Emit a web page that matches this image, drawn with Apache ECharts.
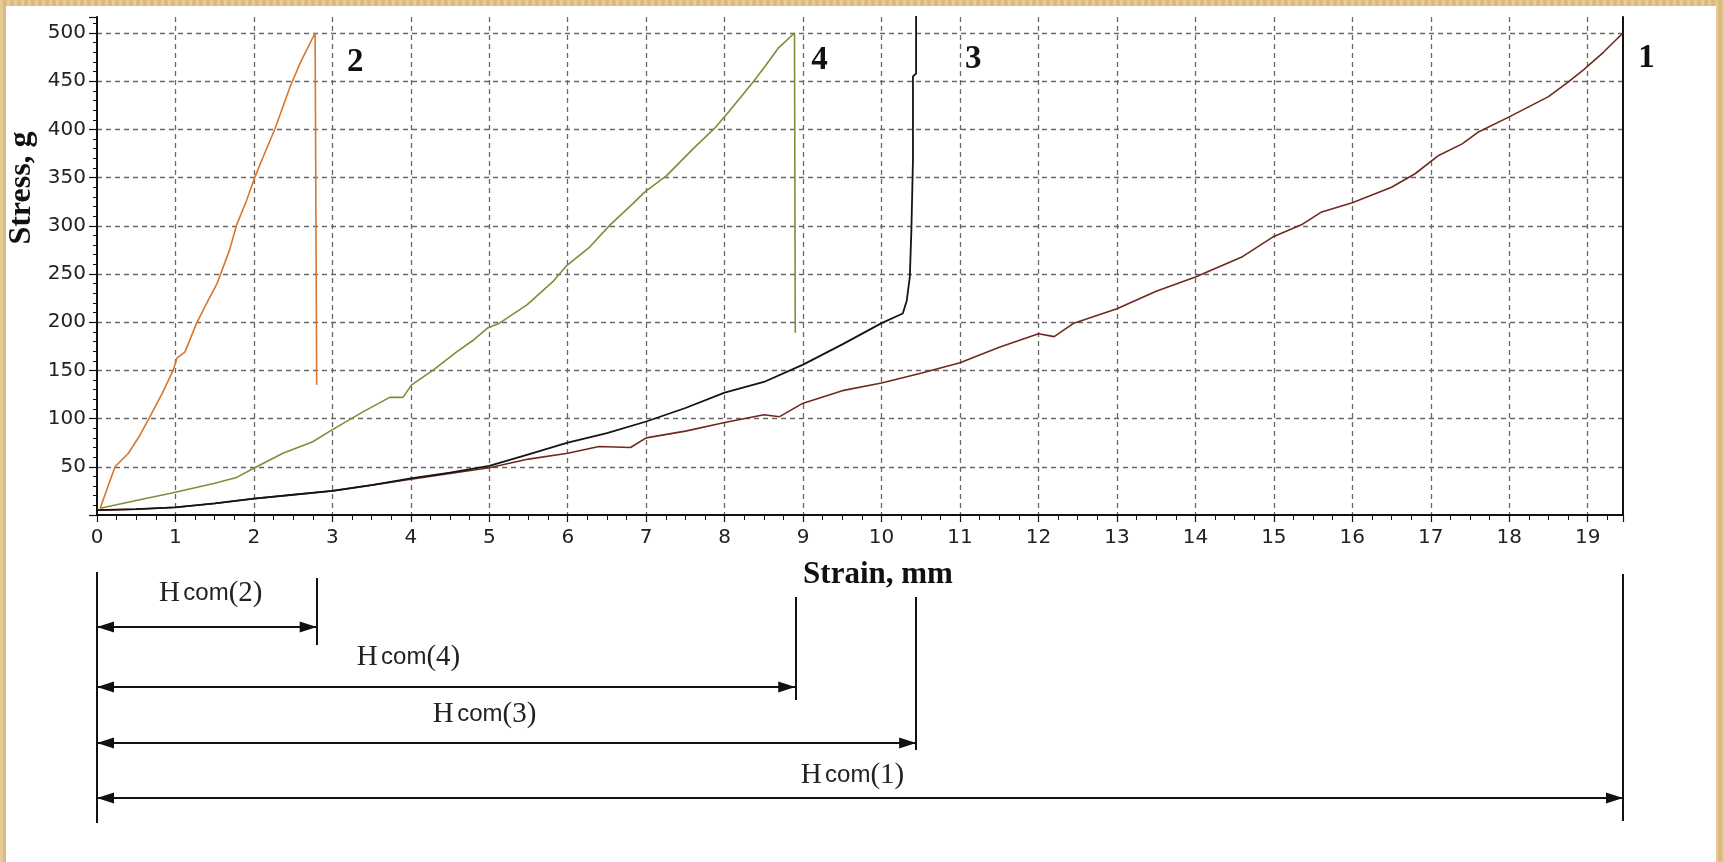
<!DOCTYPE html>
<html>
<head>
<meta charset="utf-8">
<title>Stress - Strain</title>
<script src="https://cdn.jsdelivr.net/npm/echarts@6/dist/echarts.min.js"></script>
<style>
html,body{margin:0;padding:0;}
#wrap{position:relative;width:1724px;height:862px;background:#E2C38A;
  background-image:repeating-linear-gradient(90deg,rgba(255,255,255,0.12) 0 3px,rgba(160,110,40,0.10) 3px 7px);}
#paper{position:absolute;left:6px;top:6px;right:8px;bottom:0;background:#fff;}
#chart{position:absolute;left:0;top:0;width:1724px;height:862px;}
</style>
</head>
<body>
<div id="wrap"><div id="paper"></div><div id="chart"></div></div>
<script>
// кривые нагружения (деформация, мм / нагрузка, г)
var strain1 = [0, 0.5, 1, 1.5, 2, 2.5, 3, 3.5, 4, 4.5, 5, 5.5, 6, 6.4, 6.8, 7, 7.5, 8, 8.5, 8.7, 9, 9.5, 10, 10.5, 11, 11.5, 12, 12.2, 12.45, 13, 13.5, 14, 14.6, 15, 15.35, 15.6, 16, 16.5, 16.8, 17.1, 17.4, 17.6, 18, 18.5, 18.75, 18.95, 19.2, 19.45];
var stress1 = [5, 6, 8, 12, 17, 21, 25, 31, 37, 43, 49, 58, 64, 71, 70, 80, 87, 96, 104, 102, 116, 129, 137, 147, 158, 174, 188, 185, 199, 214, 232, 247, 268, 289, 301, 314, 324, 340, 354, 373, 385, 397, 413, 434, 449, 462, 480, 500];

var strain2 = [0.04, 0.23, 0.4, 0.55, 0.7, 0.83, 0.97, 1.02, 1.12, 1.27, 1.4, 1.53, 1.69, 1.78, 1.91, 2.01, 2.1, 2.27, 2.46, 2.59, 2.78, 2.8];
var stress2 = [7, 50, 64, 83, 106, 126, 150, 163, 169, 199, 220, 240, 275, 301, 327, 350, 368, 401, 444, 469, 500, 135];

var strain3 = [0, 0.5, 1, 1.5, 2, 2.5, 3, 3.5, 4, 4.5, 5, 5.5, 6, 6.5, 7, 7.5, 8, 8.5, 9, 9.5, 10, 10.27, 10.32, 10.36, 10.38, 10.4, 10.4, 10.44, 10.44];
var stress3 = [5, 6, 8, 12, 17, 21, 25, 31, 38, 44, 51, 63, 75, 85, 97, 111, 127, 138, 156, 177, 199, 209, 222, 247, 296, 368, 455, 458, 525];

var strain4 = [0.04, 0.5, 0.97, 1.5, 1.78, 2.01, 2.37, 2.75, 2.99, 3.39, 3.73, 3.9, 4.01, 4.28, 4.58, 4.79, 4.98, 5.13, 5.48, 5.81, 5.99, 6.28, 6.54, 6.83, 6.98, 7.26, 7.6, 7.87, 8.05, 8.36, 8.53, 8.68, 8.89, 8.9];
var stress4 = [7, 15, 23, 33, 39, 49, 64, 76, 88, 107, 122, 122, 135, 150, 169, 181, 194, 199, 218, 242, 259, 278, 301, 323, 335, 352, 380, 401, 418, 449, 467, 484, 500, 189];

// Hcom — деформация разрушения для каждого образца
var hcomNames = ['2', '4', '3', '1'];
var hcomValues = [2.8, 8.9, 10.44, 19.45];

var X_MAX = 19.45, Y_MAX = 516.6;
var serif = '"Liberation Serif","Times New Roman",serif';
var sans = '"DejaVu Sans",Arial,sans-serif';

function pairs(xs, ys){
  return xs.map(function(x, i){ return [x, ys[i]]; });
}

var dash = {color:'#686868', width:1.3, type:[5,4]};

// размерные линии под графиком (уровни в пикселях второй сетки)
var rowArrow = [67, 127, 183, 238];
var rowTick = [[18, 85], [37, 140], [37, 190], [14, 261]];
var rowText = [33, 97, 154, 215];
var textX = [1.45, 3.97, 4.94, 9.63];

var dimLines = [
  [{coord:[0, 12], symbol:'none'}, {coord:[0, 263], symbol:'none'}]
];
var dimLabels = [];
hcomValues.forEach(function(v, i){
  dimLines.push([{coord:[v, rowTick[i][0]], symbol:'none'}, {coord:[v, rowTick[i][1]], symbol:'none'}]);
  dimLines.push([{coord:[0, rowArrow[i]], symbol:'triangle'}, {coord:[v, rowArrow[i]], symbol:'triangle'}]);
  dimLabels.push([textX[i], rowText[i], hcomNames[i]]);
});

var chart = echarts.init(document.getElementById('chart'));
var option = {
  animation: false,
  backgroundColor: 'transparent',
  grid: [
    {left:97, right:101, top:17, bottom:347},
    {left:97, right:101, top:560, bottom:30}
  ],
  xAxis: [
    {
      type:'value', gridIndex:0, min:0, max:X_MAX, interval:1,
      axisLine:{show:true, onZero:false, lineStyle:{color:'#111', width:2}},
      axisTick:{show:true, length:7, lineStyle:{color:'#111', width:1.2}},
      minorTick:{show:true, splitNumber:4, length:5, lineStyle:{color:'#111', width:1}},
      axisLabel:{color:'#222', fontFamily:sans, fontSize:20, margin:13, showMaxLabel:false},
      splitLine:{show:true, showMinLine:false, showMaxLine:false, lineStyle:dash}
    },
    {type:'value', gridIndex:1, min:0, max:X_MAX, show:false}
  ],
  yAxis: [
    {
      type:'value', gridIndex:0, min:0, max:Y_MAX, interval:50,
      axisLine:{show:true, lineStyle:{color:'#111', width:2}},
      axisTick:{show:true, length:8, lineStyle:{color:'#111', width:1.2}},
      minorTick:{show:true, splitNumber:5, length:4, lineStyle:{color:'#111', width:1}},
      axisLabel:{color:'#222', fontFamily:sans, fontSize:20, margin:11, showMinLabel:false, showMaxLabel:false},
      splitLine:{show:true, showMinLine:false, showMaxLine:false, lineStyle:dash}
    },
    {
      type:'value', gridIndex:0, position:'right', min:0, max:Y_MAX,
      axisLine:{show:true, lineStyle:{color:'#111', width:2}},
      axisTick:{show:false}, axisLabel:{show:false}, splitLine:{show:false}
    },
    {type:'value', gridIndex:1, min:0, max:272, inverse:true, show:false}
  ],
  graphic: [
    {type:'text', x:22, y:188, rotation:Math.PI/2,
      style:{text:'Stress, g', font:'bold 32px ' + serif, fill:'#111',
        align:'center', verticalAlign:'middle', textAlign:'center', textVerticalAlign:'middle'}},
    {type:'text', x:878, y:575,
      style:{text:'Strain, mm', font:'bold 31px ' + serif, fill:'#111',
        align:'center', verticalAlign:'middle', textAlign:'center', textVerticalAlign:'middle'}}
  ],
  series: [
    {name:'1', type:'line', data:pairs(strain1, stress1), showSymbol:false,
      lineStyle:{color:'#6E2A1E', width:1.6}},
    {name:'3', type:'line', data:pairs(strain3, stress3), showSymbol:false,
      lineStyle:{color:'#141414', width:1.8}},
    {name:'4', type:'line', data:pairs(strain4, stress4), showSymbol:false,
      lineStyle:{color:'#7F8E35', width:1.6}},
    {name:'2', type:'line', data:pairs(strain2, stress2), showSymbol:false,
      lineStyle:{color:'#D7772F', width:1.6}},
    {
      name:'numbers', type:'scatter', clip:false, symbolSize:2,
      itemStyle:{color:'rgba(0,0,0,0)', opacity:1},
      data:[[3.29, 469, '2'], [9.21, 472, '4'], [11.17, 473, '3'], [19.75, 474, '1']],
      label:{show:true, position:'inside', formatter:function(p){ return p.value[2]; },
        fontFamily:serif, fontWeight:'bold', fontSize:33, color:'#111'}
    },
    {
      name:'hcom', type:'scatter', xAxisIndex:1, yAxisIndex:2, clip:false,
      symbolSize:2, itemStyle:{color:'rgba(0,0,0,0)', opacity:1},
      data: dimLabels,
      label:{show:true, position:'inside', color:'#222',
        formatter:function(p){ return '{h|H} {c|com}{p|(' + p.value[2] + ')}'; },
        rich:{
          h:{fontFamily:serif, fontSize:29, color:'#222'},
          c:{fontFamily:'"Liberation Sans",Arial,sans-serif', fontSize:24, color:'#222'},
          p:{fontFamily:serif, fontSize:29, color:'#222'}
        }},
      markLine:{
        silent:true, animation:false, symbolSize:[11, 17],
        symbolOffset:[[0, 8.5], [0, 8.5]],
        label:{show:false},
        lineStyle:{color:'#111', width:2, type:'solid'},
        emphasis:{disabled:true},
        data: dimLines
      }
    }
  ]
};
chart.setOption(option);
</script>
</body>
</html>
